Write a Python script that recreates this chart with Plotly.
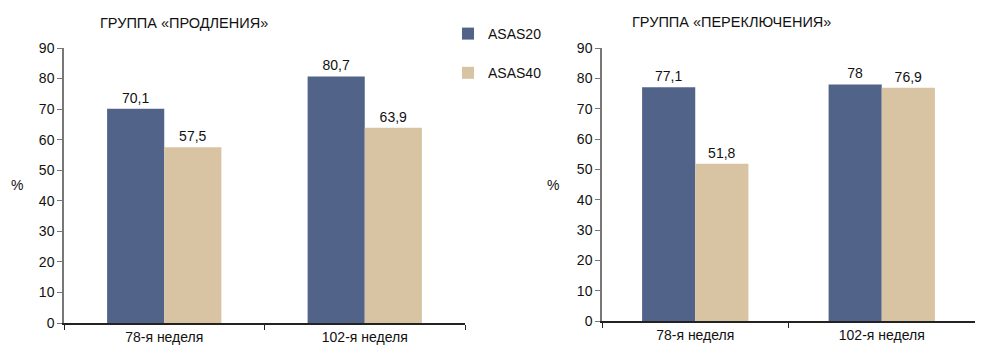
import plotly.graph_objects as go

categories = ["78-я неделя", "102-я неделя"]
series_names = ["ASAS20", "ASAS40"]
ext_asas20 = [70.1, 80.7]
ext_asas40 = [57.5, 63.9]
sw_asas20 = [77.1, 78.0]
sw_asas40 = [51.8, 76.9]
y_ticks = [0, 10, 20, 30, 40, 50, 60, 70, 80, 90]
titles = ["ГРУППА «ПРОДЛЕНИЯ»", "ГРУППА «ПЕРЕКЛЮЧЕНИЯ»"]

BLUE = "#52638A"
BEIGE = "#D8C3A2"
FONT = "Liberation Sans Narrow, Arial Narrow, Liberation Sans, Arial, sans-serif"
XAXC = "#222222"
YAXC = "#777777"

def fmt(v):
    return f"{v:g}".replace(".", ",")

fig = go.Figure()
panels = [(ext_asas20, ext_asas40, "x", "y", True), (sw_asas20, sw_asas40, "x2", "y2", False)]
for a20, a40, xa, ya, show in panels:
    for name, vals, col in [(series_names[0], a20, BLUE), (series_names[1], a40, BEIGE)]:
        fig.add_trace(go.Bar(
            x=categories, y=vals, name=name, marker_color=col, marker_line_width=0,
            text=[fmt(v) for v in vals], textposition="outside",
            textfont=dict(family=FONT, size=14, color="#111111"),
            cliponaxis=False, xaxis=xa, yaxis=ya, showlegend=show, legendgroup=name,
        ))

base = dict(showline=True, linewidth=1.5, ticks="outside", ticklen=5, showgrid=False,
            zeroline=False, automargin=False, tickfont=dict(family=FONT, size=14, color="#111111"))
xax = dict(linecolor=XAXC, tickcolor=XAXC, tickson="boundaries", **base)
yax = dict(linecolor=YAXC, tickcolor=YAXC, range=[0, 90], tickvals=y_ticks, **base)

fig.update_layout(
    template="none",
    width=986, height=354, margin=dict(l=0, r=0, t=0, b=0, autoexpand=False),
    paper_bgcolor="white", plot_bgcolor="white",
    barmode="group", bargap=0.43, bargroupgap=0,
    xaxis=dict(domain=[64/986, 465/986], anchor="y", **xax),
    yaxis=dict(domain=[31/354, 306/354], anchor="x", **yax),
    xaxis2=dict(domain=[602/986, 975/986], anchor="y2", **xax),
    yaxis2=dict(domain=[33/354, 306/354], anchor="x2", **yax),
    legend=dict(x=448/986, y=1-18/354, xanchor="left", yanchor="top", tracegroupgap=18,
                font=dict(family=FONT, size=14, color="#111111"), bgcolor="rgba(0,0,0,0)"),
    showlegend=True,
    annotations=[
        dict(text=titles[0], x=184/986, y=1-23/354, xref="paper", yref="paper", showarrow=False,
             xanchor="center", yanchor="middle", font=dict(family="Liberation Sans, Arial, sans-serif", size=14.5, color="#111111")),
        dict(text=titles[1], x=731/986, y=1-22/354, xref="paper", yref="paper", showarrow=False,
             xanchor="center", yanchor="middle", font=dict(family="Liberation Sans, Arial, sans-serif", size=14.5, color="#111111")),
        dict(text="%", x=17/986, y=1-185/354, xref="paper", yref="paper", showarrow=False,
             xanchor="center", yanchor="middle", font=dict(family=FONT, size=14, color="#111111")),
        dict(text="%", x=553/986, y=1-185/354, xref="paper", yref="paper", showarrow=False,
             xanchor="center", yanchor="middle", font=dict(family=FONT, size=14, color="#111111")),
    ],
)
fig.write_html("out.html")
